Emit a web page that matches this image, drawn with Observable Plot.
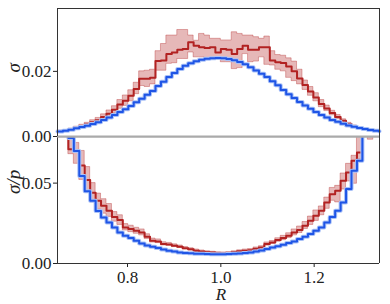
<!DOCTYPE html>
<html><head><meta charset="utf-8">
<script src="https://cdn.jsdelivr.net/npm/d3@7"></script>
<script src="https://cdn.jsdelivr.net/npm/@observablehq/plot@0.6"></script>
<style>
body{margin:0;background:#fff}
#chart{width:390px;height:304px;overflow:hidden;background:#fff}
#chart svg{display:block}
#chart svg.topPanel{position:relative;z-index:2;overflow:visible}
</style>
</head><body><div id="chart"></div>
<script>
// Bin edges in R (60 bins)
const binEdges = [0.6500,0.6617,0.6733,0.6850,0.6967,0.7083,0.7200,0.7317,0.7433,0.7550,
 0.7667,0.7783,0.7900,0.8017,0.8133,0.8250,0.8367,0.8483,0.8600,0.8717,
 0.8833,0.8950,0.9067,0.9183,0.9300,0.9417,0.9533,0.9650,0.9767,0.9883,
 1.0000,1.0117,1.0233,1.0350,1.0467,1.0583,1.0700,1.0817,1.0933,1.1050,
 1.1167,1.1283,1.1400,1.1517,1.1633,1.1750,1.1867,1.1983,1.2100,1.2217,
 1.2333,1.2450,1.2567,1.2683,1.2800,1.2917,1.3033,1.3150,1.3267,1.3383,1.3500];

// Top panel: sigma
const sigmaBlue = [0.0015,0.0018,0.0021,0.0025,0.0029,0.0033,0.0038,0.0044,0.0051,0.0058,
 0.0066,0.0075,0.0084,0.0094,0.0105,0.0116,0.0128,0.0140,0.0155,0.0168,
 0.0183,0.0195,0.0207,0.0217,0.0225,0.0231,0.0236,0.0239,0.0240,0.0241,
 0.0240,0.0238,0.0234,0.0229,0.0222,0.0213,0.0203,0.0193,0.0183,0.0170,
 0.0157,0.0143,0.0130,0.0118,0.0106,0.0095,0.0085,0.0075,0.0066,0.0058,
 0.0051,0.0045,0.0039,0.0034,0.0030,0.0026,0.0023,0.0020,0.0018,0.0016];
const sigmaRed = [0.0016,0.0018,0.0021,0.0026,0.0031,0.0037,0.0044,0.0050,0.0060,0.0070,
 0.0082,0.0098,0.0110,0.0125,0.0146,0.0177,0.0177,0.0180,0.0232,0.0233,
 0.0253,0.0258,0.0266,0.0269,0.0289,0.0279,0.0274,0.0272,0.0274,0.0258,
 0.0269,0.0266,0.0253,0.0269,0.0279,0.0266,0.0266,0.0274,0.0274,0.0233,
 0.0228,0.0226,0.0215,0.0200,0.0178,0.0158,0.0138,0.0120,0.0100,0.0086,
 0.0072,0.0060,0.0048,0.0038,0.0031,0.0026,0.0022,0.0019,0.0017,0.0015];
const sigmaRedLo = [0.0014,0.0016,0.0019,0.0022,0.0027,0.0032,0.0038,0.0043,0.0052,0.0060,
 0.0072,0.0085,0.0094,0.0108,0.0130,0.0155,0.0152,0.0160,0.0202,0.0202,
 0.0223,0.0225,0.0238,0.0238,0.0258,0.0243,0.0243,0.0238,0.0238,0.0235,
 0.0228,0.0228,0.0207,0.0210,0.0253,0.0228,0.0230,0.0243,0.0220,0.0218,
 0.0205,0.0200,0.0180,0.0170,0.0160,0.0143,0.0125,0.0108,0.0090,0.0078,
 0.0065,0.0054,0.0043,0.0034,0.0028,0.0023,0.0020,0.0017,0.0015,0.0013];
const sigmaRedHi = [0.0018,0.0020,0.0024,0.0030,0.0036,0.0042,0.0050,0.0057,0.0068,0.0080,
 0.0093,0.0112,0.0126,0.0142,0.0165,0.0200,0.0202,0.0205,0.0262,0.0284,
 0.0310,0.0310,0.0327,0.0327,0.0310,0.0294,0.0315,0.0310,0.0300,0.0300,
 0.0295,0.0295,0.0320,0.0315,0.0310,0.0310,0.0305,0.0300,0.0307,0.0262,
 0.0250,0.0248,0.0240,0.0230,0.0205,0.0172,0.0152,0.0133,0.0112,0.0095,
 0.0079,0.0066,0.0053,0.0042,0.0034,0.0029,0.0024,0.0021,0.0019,0.0017];

// Bottom panel: sigma / p
const ratioBlue = [0.150,0.110,0.078,0.070,0.0545,0.045,0.039,0.0327,0.0286,0.0255,
 0.0224,0.0193,0.0172,0.0158,0.0141,0.0124,0.0112,0.0104,0.0096,0.0087,
 0.0080,0.0074,0.0069,0.0066,0.0063,0.0061,0.0060,0.0059,0.0058,0.0058,
 0.0058,0.0059,0.0060,0.0062,0.0065,0.0069,0.0074,0.0081,0.0090,0.0100,
 0.0108,0.0116,0.0127,0.0137,0.0152,0.0166,0.0183,0.0203,0.0224,0.0255,
 0.0290,0.0328,0.0380,0.0463,0.0577,0.0639,0.085,0.100,0.120,0.150];
const ratioRed = [0.150,0.100,0.071,0.070,0.061,0.052,0.044,0.039,0.0359,0.0328,
 0.029,0.027,0.0224,0.0214,0.0203,0.0193,0.0166,0.0141,0.0137,0.0121,
 0.0118,0.0110,0.0104,0.0095,0.0088,0.0080,0.0075,0.0070,0.0068,0.0065,
 0.0064,0.0066,0.0070,0.0076,0.0080,0.0083,0.0092,0.0100,0.0121,0.0131,
 0.0146,0.0158,0.0172,0.0193,0.0208,0.0235,0.0266,0.0297,0.0328,0.0380,
 0.0431,0.0452,0.0514,0.0566,0.0639,0.0690,0.095,0.100,0.120,0.130];
const ratioRedLo = [0.120,0.085,0.068,0.062,0.052,0.044,0.038,0.0335,0.031,0.029,
 0.026,0.024,0.0205,0.0195,0.0185,0.0175,0.0152,0.0130,0.0127,0.0112,
 0.0110,0.0102,0.0097,0.0088,0.0081,0.0074,0.0069,0.0065,0.0063,0.0060,
 0.0059,0.0061,0.0065,0.0070,0.0074,0.0077,0.0085,0.0093,0.0111,0.0122,
 0.0135,0.0145,0.0158,0.0175,0.0190,0.0215,0.0240,0.0265,0.0300,0.0340,
 0.0390,0.0380,0.0460,0.0510,0.0496,0.0650,0.085,0.077,0.100,0.110];
const ratioRedHi = [0.180,0.120,0.085,0.075,0.070,0.060,0.0500,0.0435,0.040,0.037,
 0.032,0.030,0.0245,0.0235,0.0222,0.0212,0.0182,0.0155,0.0150,0.0132,
 0.0128,0.0119,0.0112,0.0102,0.0095,0.0087,0.0081,0.0076,0.0073,0.0070,
 0.0069,0.0071,0.0076,0.0082,0.0087,0.0090,0.0100,0.0108,0.0131,0.0140,
 0.0157,0.0172,0.0188,0.0212,0.0230,0.0258,0.0292,0.0330,0.0355,0.0410,
 0.0470,0.0483,0.0560,0.0620,0.0670,0.0850,0.110,0.120,0.140,0.150];

// Axis ticks and labels
const xTicks = [0.8, 1.0, 1.2];
const sigmaTicks = [0.00, 0.02];
const ratioTicks = [0.00, 0.05];
const xDomain = [0.65, 1.34];
const sigmaDomain = [0, 0.0393];
const ratioDomain = [0, 0.079];
const xLabel = "R";
const sigmaLabel = "σ";
const ratioLabel = "σ/p";

// step rows, with the last edge limited to the visible x range
function edgeAt(i) { return Math.min(binEdges[i], xDomain[1]); }
function steps(vals) {
  const rows = vals.map((v, i) => ({x: edgeAt(i), y: v}));
  rows.push({x: edgeAt(vals.length), y: vals[vals.length - 1]});
  return rows;
}
function bands(lo, hi) {
  const rows = lo.map((v, i) => ({x: edgeAt(i), y1: v, y2: hi[i]}));
  rows.push({x: edgeAt(lo.length), y1: lo[lo.length - 1], y2: hi[hi.length - 1]});
  return rows;
}

const font = "'Liberation Serif', 'DejaVu Serif', serif";
const RED = "#b22222", BLUE = "#1f55e6", HALO = "#a9c1f7", FRAME = "#333", DIV = "#aaaaaa";

function seriesMarks(lo, hi, red, blue) {
  return [
    Plot.areaY(bands(lo, hi), {x: "x", y1: "y1", y2: "y2", curve: "step-after", fill: RED, fillOpacity: 0.32, stroke: RED, strokeOpacity: 0.35, strokeWidth: 1}),
    Plot.line(steps(red), {x: "x", y: "y", curve: "step-after", stroke: RED, strokeWidth: 2}),
    Plot.line(steps(blue), {x: "x", y: "y", curve: "step-after", stroke: HALO, strokeWidth: 4}),
    Plot.line(steps(blue), {x: "x", y: "y", curve: "step-after", stroke: BLUE, strokeWidth: 2})
  ];
}

const topPlot = Plot.plot({
  width: 390, height: 136, marginLeft: 57, marginRight: 11, marginTop: 8, marginBottom: 0,
  style: {fontFamily: font, fontSize: "17px", color: "#222", background: "transparent", overflow: "visible"},
  x: {domain: xDomain, axis: null},
  y: {domain: sigmaDomain, ticks: sigmaTicks, tickFormat: d3.format(".2f"), tickSize: 4, tickPadding: 2, label: null},
  marks: [
    ...seriesMarks(sigmaRedLo, sigmaRedHi, sigmaRed, sigmaBlue),
    Plot.ruleY([0], {stroke: DIV, strokeWidth: 2}),
    Plot.ruleY([sigmaDomain[1]], {stroke: FRAME, strokeWidth: 1}),
    Plot.ruleX(xDomain, {stroke: FRAME, strokeWidth: 1}),
    Plot.text([sigmaLabel], {frameAnchor: "left", text: d => d, dx: -44, rotate: -90, fontStyle: "italic", fontSize: 19})
  ]
});
topPlot.classList.add("topPanel");

const botPlot = Plot.plot({
  width: 390, height: 168, marginLeft: 57, marginRight: 11, marginTop: 0, marginBottom: 41,
  style: {fontFamily: font, fontSize: "17px", color: "#222", background: "transparent"},
  x: {domain: xDomain, ticks: xTicks, tickFormat: d3.format(".1f"), tickSize: 4, tickPadding: 3, label: null},
  y: {domain: ratioDomain, ticks: ratioTicks, tickFormat: d3.format(".2f"), tickSize: 4, tickPadding: 2, label: null},
  marks: [
    ...seriesMarks(ratioRedLo, ratioRedHi, ratioRed, ratioBlue),
    Plot.ruleY([ratioDomain[1]], {stroke: DIV, strokeWidth: 2}),
    Plot.ruleY([0], {stroke: FRAME, strokeWidth: 1}),
    Plot.ruleX(xDomain, {stroke: FRAME, strokeWidth: 1}),
    Plot.text([ratioLabel], {frameAnchor: "left", text: d => d, dx: -44, dy: -6, rotate: -90, fontStyle: "italic", fontSize: 19}),
    Plot.text([1.0], {x: d => d, frameAnchor: "bottom", text: () => xLabel, dy: 31, lineAnchor: "middle", fontStyle: "italic", fontSize: 17})
  ]
});

const chart = document.getElementById("chart");
chart.appendChild(topPlot);
chart.appendChild(botPlot);
</script>
</body></html>
